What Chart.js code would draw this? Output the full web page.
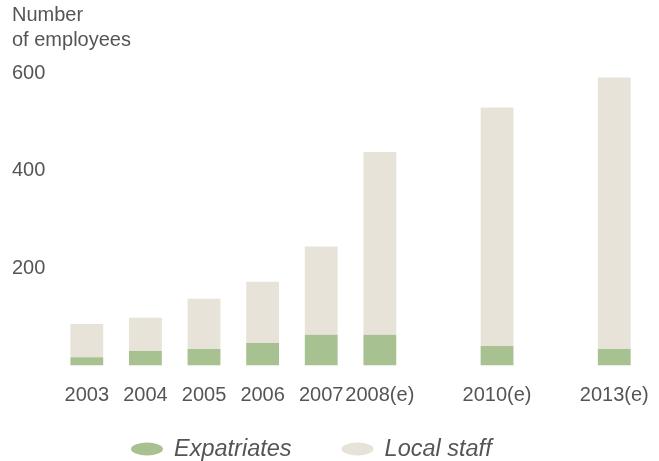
<!DOCTYPE html>
<html>
<head>
<meta charset="utf-8">
<script src="https://cdn.jsdelivr.net/npm/chart.js@4.4.1/dist/chart.umd.min.js"></script>
<style>
  html, body { margin: 0; padding: 0; background: #fff; }
  #wrap { width: 659px; height: 461px; }
</style>
</head>
<body>
<div id="wrap"><canvas id="employees-chart"></canvas></div>
<script>
// Data (blank slots keep the gaps for 2009, 2011-2012)
const years = ['2003', '2004', '2005', '2006', '2007', '2008(e)', '', '2010(e)', '', '2013(e)'];
const expatriates = [17, 30, 34, 46, 63, 63, null, 40, null, 34];
const localStaff = [68, 68, 103, 126, 181, 375, null, 489, null, 557];
const yTicks = [200, 400, 600];

const GREEN = '#a8c191';
const BEIGE = '#e7e3d8';
const TEXT = '#555555';
const FONT = "'Liberation Sans', Arial, Helvetica, sans-serif";

// Legend with ellipse markers and italic labels, drawn under the x axis
const ellipseLegend = {
    id: 'ellipseLegend',
    afterDraw(chart) {
        const ctx = chart.ctx;
        const y = 449;
        let x = 131;
        ctx.save();
        ctx.font = 'italic 23.5px ' + FONT;
        ctx.textBaseline = 'middle';
        ctx.textAlign = 'left';
        chart.data.datasets.forEach(ds => {
            ctx.fillStyle = ds.backgroundColor;
            ctx.beginPath();
            ctx.ellipse(x + 16, y, 16, 6.5, 0, 0, Math.PI * 2);
            ctx.fill();
            x += 32 + 11;
            ctx.fillStyle = TEXT;
            ctx.fillText(ds.label, x, y);
            x += ctx.measureText(ds.label).width + 50;
        });
        ctx.restore();
    }
};

const ctx = document.getElementById('employees-chart').getContext('2d');
new Chart(ctx, {
    type: 'bar',
    data: {
        labels: years,
        datasets: [
            {
                label: 'Expatriates',
                data: expatriates,
                backgroundColor: GREEN,
                borderWidth: 0,
                barPercentage: 1,
                categoryPercentage: 0.56
            },
            {
                label: 'Local staff',
                data: localStaff,
                backgroundColor: BEIGE,
                borderWidth: 0,
                barPercentage: 1,
                categoryPercentage: 0.56
            }
        ]
    },
    options: {
        responsive: true,
        maintainAspectRatio: false,
        animation: false,
        layout: {
            padding: { left: 12, right: 5.5, top: 0, bottom: 40.5 }
        },
        scales: {
            x: {
                stacked: true,
                grid: { display: false },
                border: { display: false },
                ticks: {
                    color: TEXT,
                    font: { family: FONT, size: 20 },
                    padding: 10,
                    maxRotation: 0,
                    autoSkip: false
                },
                afterFit(scale) { scale.height = 55; }
            },
            y: {
                stacked: true,
                min: 0,
                max: 600,
                grid: { display: false },
                border: { display: false },
                afterBuildTicks(scale) {
                    scale.ticks = yTicks.map(v => ({ value: v }));
                },
                ticks: {
                    color: TEXT,
                    font: { family: FONT, size: 20 },
                    crossAlign: 'far',
                    padding: 0
                },
                afterFit(scale) { scale.width = 45.5; }
            }
        },
        plugins: {
            legend: { display: false },
            tooltip: { enabled: false },
            title: {
                display: true,
                text: ['Number', 'of employees'],
                align: 'start',
                color: TEXT,
                font: { family: FONT, size: 20, weight: 'normal', lineHeight: 1.25 },
                padding: { top: 3, bottom: 20 }
            }
        }
    },
    plugins: [ellipseLegend]
});
</script>
</body>
</html>
